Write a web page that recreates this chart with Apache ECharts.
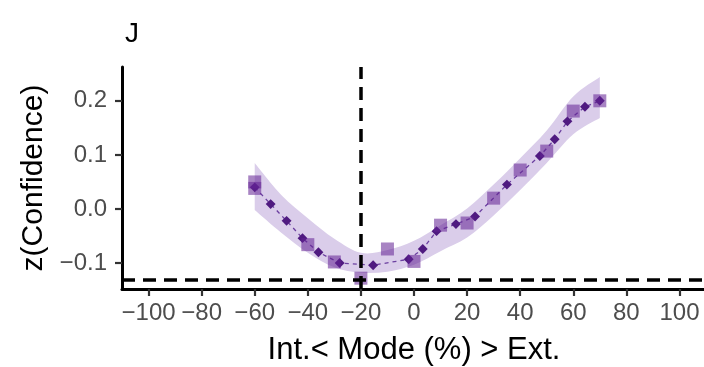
<!DOCTYPE html>
<html>
<head>
<meta charset="utf-8">
<script src="https://cdn.jsdelivr.net/npm/echarts@6/dist/echarts.min.js"></script>
<style>
  html, body { margin: 0; padding: 0; background: #fff; }
  #chart { width: 704px; height: 367px; }
</style>
</head>
<body>
<div id="chart"></div>
<script>
// Binned means (large squares)
const binX = [-60, -60, -40, -30, -20, -10, 0, 10, 20, 30, 40, 50, 60, 70];
const binY = [0.050, 0.038, -0.066, -0.098, -0.128, -0.074, -0.097, -0.030, -0.026, 0.020, 0.072, 0.107, 0.181, 0.200];

// Fine-grained means joined by the dashed line (small diamonds)
const fineX = [-60, -54, -48, -42, -36, -28, -15.4, -2, 3.3, 8.5, 15.8, 23, 35, 47.4, 53, 57.8, 64.4, 70];
const fineY = [0.040, 0.009, -0.022, -0.054, -0.080, -0.100, -0.104, -0.093, -0.074, -0.041, -0.028, -0.014, 0.045, 0.098, 0.129, 0.162, 0.189, 0.200];

// Confidence band of the fit
const bandX = [-60, -50, -40, -30, -20, -10, 0, 10, 20, 30, 40, 50, 60, 70];
const bandUpper = [0.085, 0.026, -0.017, -0.055, -0.081, -0.076, -0.059, -0.030, 0.001, 0.045, 0.094, 0.145, 0.208, 0.244];
const bandLower = [-0.002, -0.044, -0.081, -0.108, -0.118, -0.116, -0.103, -0.078, -0.053, -0.012, 0.035, 0.085, 0.138, 0.168];

// Reference lines
const refX = -20;
const refY = -0.128;

const xTicks = [-100, -80, -60, -40, -20, 0, 20, 40, 60, 80, 100];
const yTicks = [-0.1, 0.0, 0.1, 0.2];

const minus = s => String(s).replace('-', '\u2212');
const font = '"Liberation Sans", Arial, sans-serif';

// Catmull-Rom spline through pixel points, appended to an SVG path string
function splinePath(pts, start) {
  let d = start ? 'M' + pts[0][0] + ' ' + pts[0][1] : 'L' + pts[0][0] + ' ' + pts[0][1];
  for (let i = 0; i < pts.length - 1; i++) {
    const p0 = pts[Math.max(i - 1, 0)], p1 = pts[i], p2 = pts[i + 1], p3 = pts[Math.min(i + 2, pts.length - 1)];
    const c1 = [p1[0] + (p2[0] - p0[0]) / 6, p1[1] + (p2[1] - p0[1]) / 6];
    const c2 = [p2[0] - (p3[0] - p1[0]) / 6, p2[1] - (p3[1] - p1[1]) / 6];
    d += 'C' + c1[0] + ' ' + c1[1] + ' ' + c2[0] + ' ' + c2[1] + ' ' + p2[0] + ' ' + p2[1];
  }
  return d;
}

const chart = echarts.init(document.getElementById('chart'), null, { renderer: 'canvas' });

chart.setOption({
  animation: false,
  backgroundColor: '#ffffff',
  title: {
    text: 'J',
    left: 120, top: 15,
    textStyle: { fontFamily: font, fontSize: 28, fontWeight: 'normal', color: '#000' }
  },
  grid: { left: 122, top: 67, width: 584, height: 222, containLabel: false, outerBoundsMode: 'none' },
  xAxis: {
    type: 'value', min: -110, max: 110,
    name: 'Int.< Mode (%) > Ext.',
    nameLocation: 'middle', nameGap: 46,
    nameTextStyle: { fontFamily: font, fontSize: 31, color: '#000' },
    axisLine: { show: true, onZero: false, lineStyle: { color: '#000', width: 3 } },
    axisTick: { show: true, customValues: xTicks, length: 7, lineStyle: { color: '#333', width: 2.2 } },
    axisLabel: { customValues: xTicks, formatter: v => minus(v), margin: 12,
      fontFamily: font, fontSize: 24, color: '#4d4d4d', hideOverlap: false },
    splitLine: { show: false }
  },
  yAxis: {
    type: 'value', min: -0.148, max: 0.2625,
    name: 'z(Confidence)',
    nameLocation: 'middle', nameGap: 28,
    nameTextStyle: { fontFamily: font, fontSize: 30, color: '#000' },
    axisLine: { show: true, onZero: false, lineStyle: { color: '#000', width: 3 } },
    axisTick: { show: true, customValues: yTicks, length: 7, lineStyle: { color: '#333', width: 2.2 } },
    axisLabel: { customValues: yTicks, formatter: v => minus(v.toFixed(1)), margin: 15,
      fontFamily: font, fontSize: 24, color: '#4d4d4d' },
    splitLine: { show: false }
  },
  series: [
    {
      type: 'custom',
      z: 1,
      clip: false,
      data: [[bandX[0], bandUpper[0]]],
      renderItem: function (params, api) {
        const up = bandX.map((x, i) => api.coord([x, bandUpper[i]]));
        const lo = bandX.map((x, i) => api.coord([x, bandLower[i]])).reverse();
        const d = splinePath(up, true) + splinePath(lo, false) + 'Z';
        return {
          type: 'path',
          shape: { pathData: d },
          style: { fill: '#dacdea' }
        };
      }
    },
    {
      type: 'line',
      z: 2,
      data: fineX.map((x, i) => [x, fineY[i]]),
      showSymbol: true,
      symbol: 'rect',
      symbolSize: 7,
      symbolRotate: 45,
      itemStyle: { color: '#4f1a80' },
      lineStyle: { color: '#6b3fa0', width: 1.3, type: [4, 4] }
    },
    {
      type: 'scatter',
      z: 3,
      data: binX.map((x, i) => [x, binY[i]]),
      symbol: 'rect',
      symbolSize: 13,
      itemStyle: { color: 'rgba(100, 36, 148, 0.7)' }
    },
    {
      type: 'line',
      z: 5,
      data: [],
      markLine: {
        silent: true,
        symbol: 'none',
        label: { show: false },
        lineStyle: { color: '#000', width: 3.5, type: [13, 8] },
        data: [{ xAxis: refX }, { yAxis: refY }]
      }
    }
  ]
});
</script>
</body>
</html>
